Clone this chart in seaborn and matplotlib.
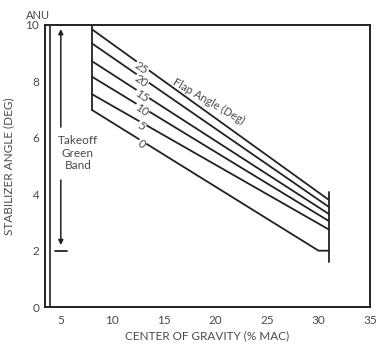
import pandas as pd
import matplotlib.pyplot as plt
import seaborn as sns
import numpy as np

# flap angle lines (deg), CG start/end and stabilizer angle
flaps = [25, 20, 15, 10, 5, 0]
cg_start = [8, 8, 8, 8, 8, 8]
stab_start = [9.85, 9.35, 8.72, 8.17, 7.55, 6.99]
cg_end = [31, 31, 31, 31, 31, 30]
stab_end = [3.8, 3.55, 3.3, 3.05, 2.75, 2.0]

x_ticks = [5, 10, 15, 20, 25, 30, 35]
y_ticks = [0, 2, 4, 6, 8, 10]

rows = []
for f, x0, y0, x1, y1 in zip(flaps, cg_start, stab_start, cg_end, stab_end):
    rows.append((f, x0, y0))
    rows.append((f, x1, y1))
    if x1 < 31:
        rows.append((f, 31, y1))
df = pd.DataFrame(rows, columns=['Flap', 'CG', 'Stab'])

sns.set_style('white')
plt.rcParams['font.family'] = ['Lato', 'DejaVu Sans']
ink = '#222222'
txt = '#4a4a4a'

fig = plt.figure(figsize=(3.8, 3.51), dpi=100)
ax = fig.add_axes([0.118, 0.125, 0.856, 0.804])

sns.lineplot(data=df, x='CG', y='Stab', units='Flap', estimator=None,
             color=ink, linewidth=1.3, ax=ax, sort=False)

# end bars
ax.plot([8, 8], [6.99, 10], color=ink, lw=1.3)
ax.plot([31, 31], [1.6, 4.08], color=ink, lw=1.3)

# inner left line
ax.plot([3.93, 3.93], [0, 10], color=ink, lw=1.2)

# flap labels on the lines
for f, x0, y0, x1, y1 in zip(flaps, cg_start, stab_start, cg_end, stab_end):
    xl = 12.8
    yl = y0 + (y1 - y0) * (xl - x0) / (x1 - x0)
    ax.text(xl, yl - 0.12, str(f), rotation=-35, ha='center', va='center',
            fontsize=8.5, color=txt,
            bbox=dict(boxstyle='square,pad=0.05', fc='white', ec='none'))

ax.text(19.3, 7.3, 'Flap Angle (Deg)', rotation=-30, ha='center', va='center',
        fontsize=8, color=txt)

# takeoff green band arrow
ax.annotate('', xy=(5, 9.95), xytext=(5, 6.28),
            arrowprops=dict(arrowstyle='-|>', color=ink, lw=1.1, mutation_scale=7))
ax.annotate('', xy=(5, 2.1), xytext=(5, 4.6),
            arrowprops=dict(arrowstyle='-|>', color=ink, lw=1.1, mutation_scale=7))
ax.plot([4.4, 5.6], [2.0, 2.0], color=ink, lw=1.3)
ax.text(6.65, 5.45, 'Takeoff\nGreen\nBand', ha='center', va='center',
        fontsize=8.5, color=txt, linespacing=1.15)

ax.set_xlim(3.45, 35)
ax.set_ylim(0, 10)
ax.set_xticks(x_ticks)
ax.set_yticks(y_ticks)
ax.set_xlabel('CENTER OF GRAVITY (% MAC)', fontsize=8.5, color=txt, labelpad=3)
ax.set_ylabel('STABILIZER ANGLE (DEG)', fontsize=8.5, color=txt, labelpad=8)
ax.tick_params(axis='x', direction='out', length=4, width=1.2, colors=ink,
               labelcolor=txt, labelsize=8.5, pad=2)
ax.tick_params(axis='y', direction='in', length=5, width=1.2, colors=ink,
               labelcolor=txt, labelsize=8.5, pad=4)
for s in ax.spines.values():
    s.set_color(ink)
    s.set_linewidth(1.4)

ax.text(-0.02, 1.015, 'ANU', transform=ax.transAxes, ha='center', va='bottom',
        fontsize=8, color=txt)

fig.savefig('out.png', dpi=100)
